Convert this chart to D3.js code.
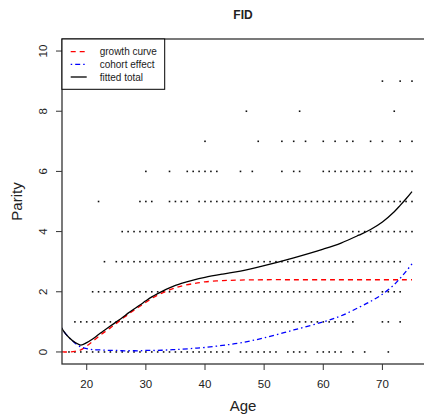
<!DOCTYPE html>
<html>
<head>
<meta charset="utf-8">
<script src="https://cdn.jsdelivr.net/npm/d3@7"></script>
<style>
  body { margin: 0; background: #fff; }
  text { font-family: 'Liberation Sans', Arial, sans-serif; }
</style>
</head>
<body>
<svg width="424" height="416"></svg>
<script>
var svg = d3.select('svg');

// Observed parity by age (ages where a dot is drawn, per parity level)
var agesParity0 = [17, 18, 19, 20, 21, 22, 23, 24, 25, 26, 27, 28, 29, 30, 31, 32, 33, 34, 35, 36, 37, 38, 39, 40, 41, 42, 43, 44,
    46, 47, 48, 49, 50, 51, 52, 54, 55, 56, 57, 59, 60, 61, 62, 63, 65, 67, 71];
var agesParity1 = [18, 19, 20, 21, 22, 23, 24, 25, 26, 27, 28, 29, 30, 31, 32, 33, 34, 35, 36, 37, 38, 39, 40, 41, 42, 43, 44, 45,
    46, 47, 48, 49, 50, 51, 52, 53, 54, 55, 56, 57, 58, 59, 60, 61, 62, 63, 64, 65, 70, 71, 73];
var agesParity2 = [21, 22, 23, 24, 25, 26, 27, 28, 29, 30, 31, 32, 33, 34, 35, 36, 37, 38, 39, 40, 41, 42, 43, 44, 45, 46, 47, 48,
    49, 50, 51, 52, 53, 54, 55, 56, 57, 58, 59, 60, 61, 62, 63, 64, 65, 66, 67, 68, 70, 71, 72, 73];
var agesParity3 = [23, 25, 26, 27, 28, 29, 30, 31, 32, 33, 34, 35, 36, 37, 38, 39, 40, 41, 42, 43, 44, 45, 46, 47, 48, 49, 50, 51,
    52, 53, 54, 55, 56, 57, 58, 59, 60, 61, 62, 63, 64, 65, 66, 67, 68, 69, 70, 71, 72, 73];
var agesParity4 = [26, 27, 28, 29, 30, 31, 32, 33, 34, 35, 36, 37, 38, 39, 40, 41, 42, 43, 44, 45, 46, 47, 48, 49, 50, 51, 52, 53,
    54, 55, 56, 57, 58, 59, 60, 61, 62, 63, 64, 65, 66, 67, 68, 69, 70, 71, 72, 73, 74, 75];
var agesParity5 = [22, 29, 30, 31, 34, 35, 36, 37, 39, 40, 41, 42, 43, 44, 45, 46, 47, 48, 49, 50, 51, 52, 53, 54, 55, 56, 57, 58,
    59, 60, 61, 62, 63, 64, 65, 66, 67, 68, 69, 70, 71, 72, 73, 74, 75];
var agesParity6 = [30, 34, 37, 38, 39, 40, 41, 42, 46, 48, 53, 55, 56, 60, 61, 62, 63, 64, 65, 66, 67, 68, 70, 71, 72, 73, 74, 75];
var agesParity7 = [40, 49, 53, 55, 57, 60, 62, 64, 65, 68, 70, 73, 75];
var agesParity8 = [47, 56, 72];
var agesParity9 = [70, 73, 75];

// Fitted curves
var curveAges = [15.8, 16, 17, 18, 19, 20, 21, 22, 23, 24, 25, 26, 27, 28, 29, 30, 31, 32, 33, 34, 35, 36, 38, 40,
    43, 46, 50, 55, 60, 63, 66, 68, 70, 72, 73, 74, 75];
var growthCurve = [0, 0, 0, 0.02, 0.07, 0.2, 0.35, 0.51, 0.66, 0.8, 0.95, 1.1, 1.25, 1.39, 1.52, 1.65, 1.78, 1.89, 1.98, 2.06, 2.13,
    2.19, 2.27, 2.33, 2.37, 2.39, 2.4, 2.4, 2.4, 2.4, 2.4, 2.4, 2.4, 2.4, 2.4, 2.4, 2.4];
var cohortEffect = [0.8, 0.72, 0.48, 0.3, 0.17, 0.11, 0.08, 0.07, 0.06, 0.05, 0.05, 0.04, 0.04, 0.04, 0.04, 0.05, 0.05, 0.05, 0.06,
    0.07, 0.08, 0.09, 0.12, 0.15, 0.22, 0.3, 0.47, 0.73, 1.0, 1.2, 1.48, 1.68, 1.92, 2.24, 2.45, 2.68, 2.93];
var fittedTotal = [0.8, 0.72, 0.48, 0.32, 0.23, 0.31, 0.43, 0.58, 0.72, 0.86, 1.0, 1.14, 1.29, 1.43, 1.56, 1.7, 1.83, 1.94, 2.04,
    2.13, 2.21, 2.28, 2.39, 2.48, 2.59, 2.69, 2.87, 3.13, 3.42, 3.62, 3.88, 4.07, 4.32, 4.66, 4.87, 5.09, 5.33];

var xTicks = [20, 30, 40, 50, 60, 70];
var yTicks = [0, 2, 4, 6, 8, 10];
var legendLabels = ['growth curve', 'cohort effect', 'fitted total'];

// Layout
var plotLeft = 62, plotRight = 425, plotTop = 39, plotBottom = 364;

var x = d3.scaleLinear().domain([15.82, 77.2]).range([plotLeft, plotRight]);
var y = d3.scaleLinear().domain([-0.4, 10.4]).range([plotBottom, plotTop]);

// Points
var dotRows = [agesParity0, agesParity1, agesParity2, agesParity3, agesParity4,
    agesParity5, agesParity6, agesParity7, agesParity8, agesParity9];
var points = [];
dotRows.forEach(function(ages, parity) {
    ages.forEach(function(a) {
        points.push({age: a, parity: parity});
    });
});

svg.append('g')
    .selectAll('rect')
    .data(points)
    .enter()
    .append('rect')
    .attr('x', function(d) { return x(d.age) - 0.8; })
    .attr('y', function(d) { return y(d.parity) - 0.8; })
    .attr('width', 1.6)
    .attr('height', 1.6)
    .attr('fill', '#111');

// Curves
svg.append('clipPath')
    .attr('id', 'plotClip')
    .append('rect')
    .attr('x', plotLeft)
    .attr('y', plotTop)
    .attr('width', plotRight - plotLeft)
    .attr('height', plotBottom - plotTop);

function makeLine(values) {
    return d3.line()
        .x(function(d, i) { return x(curveAges[i]); })
        .y(function(d) { return y(d); })
        .curve(d3.curveCatmullRom.alpha(0.5))(values);
}

var series = [
    {values: growthCurve, color: '#ff0000', dash: '5,4'},
    {values: cohortEffect, color: '#0000ff', dash: '1.5,3,5,3'},
    {values: fittedTotal, color: '#000000', dash: null}
];

svg.append('g')
    .attr('clip-path', 'url(#plotClip)')
    .selectAll('path')
    .data(series)
    .enter()
    .append('path')
    .attr('d', function(d) { return makeLine(d.values); })
    .attr('fill', 'none')
    .attr('stroke', function(d) { return d.color; })
    .attr('stroke-width', 1.3)
    .attr('stroke-dasharray', function(d) { return d.dash; });

// Box
svg.append('rect')
    .attr('x', plotLeft)
    .attr('y', plotTop)
    .attr('width', plotRight - plotLeft)
    .attr('height', plotBottom - plotTop)
    .attr('fill', 'none')
    .attr('stroke', '#333')
    .attr('stroke-width', 1.3);

// X axis
var xAxisG = svg.append('g');
xAxisG.selectAll('line')
    .data(xTicks)
    .enter()
    .append('line')
    .attr('x1', function(d) { return x(d); })
    .attr('x2', function(d) { return x(d); })
    .attr('y1', plotBottom)
    .attr('y2', plotBottom + 6)
    .attr('stroke', '#333');
xAxisG.selectAll('text')
    .data(xTicks)
    .enter()
    .append('text')
    .attr('x', function(d) { return x(d); })
    .attr('y', 387.5)
    .attr('text-anchor', 'middle')
    .style('font-size', '11.5px')
    .style('fill', '#222')
    .text(function(d) { return d; });

// Y axis
var yAxisG = svg.append('g');
yAxisG.selectAll('line')
    .data(yTicks)
    .enter()
    .append('line')
    .attr('x1', plotLeft - 6)
    .attr('x2', plotLeft)
    .attr('y1', function(d) { return y(d); })
    .attr('y2', function(d) { return y(d); })
    .attr('stroke', '#333');
yAxisG.selectAll('text')
    .data(yTicks)
    .enter()
    .append('text')
    .attr('transform', function(d) { return 'translate(' + [46.5, y(d)] + ') rotate(-90)'; })
    .attr('text-anchor', 'middle')
    .style('font-size', '11.5px')
    .style('fill', '#222')
    .text(function(d) { return d; });

// Labels
svg.append('text')
    .attr('x', 243)
    .attr('y', 18.5)
    .attr('text-anchor', 'middle')
    .style('font-size', '12px')
    .style('font-weight', 'bold')
    .style('fill', '#222')
    .text('FID');

svg.append('text')
    .attr('x', 243)
    .attr('y', 411)
    .attr('text-anchor', 'middle')
    .style('font-size', '15px')
    .style('fill', '#222')
    .text('Age');

svg.append('text')
    .attr('transform', 'translate(' + [21.5, (plotTop + plotBottom) / 2] + ') rotate(-90)')
    .attr('text-anchor', 'middle')
    .style('font-size', '15px')
    .style('fill', '#222')
    .text('Parity');

// Legend
var legendG = svg.append('g');
legendG.append('rect')
    .attr('x', plotLeft)
    .attr('y', plotTop)
    .attr('width', 102.7)
    .attr('height', 50.3)
    .attr('fill', '#fff')
    .attr('stroke', '#000')
    .attr('stroke-width', 1);

var legendItems = legendG.selectAll('.legend-item')
    .data(series)
    .enter()
    .append('g')
    .attr('class', 'legend-item')
    .attr('transform', function(d, i) { return 'translate(' + [0, 51.7 + i * 12.65] + ')'; });
legendItems.append('line')
    .attr('x1', 70.7)
    .attr('x2', 86.7)
    .attr('stroke', function(d) { return d.color; })
    .attr('stroke-width', 1.3)
    .attr('stroke-dasharray', function(d) { return d.dash; });
legendItems.append('text')
    .attr('x', 99.7)
    .attr('y', 3.6)
    .style('font-size', '10px')
    .style('fill', '#222')
    .text(function(d, i) { return legendLabels[i]; });
</script>
</body>
</html>
